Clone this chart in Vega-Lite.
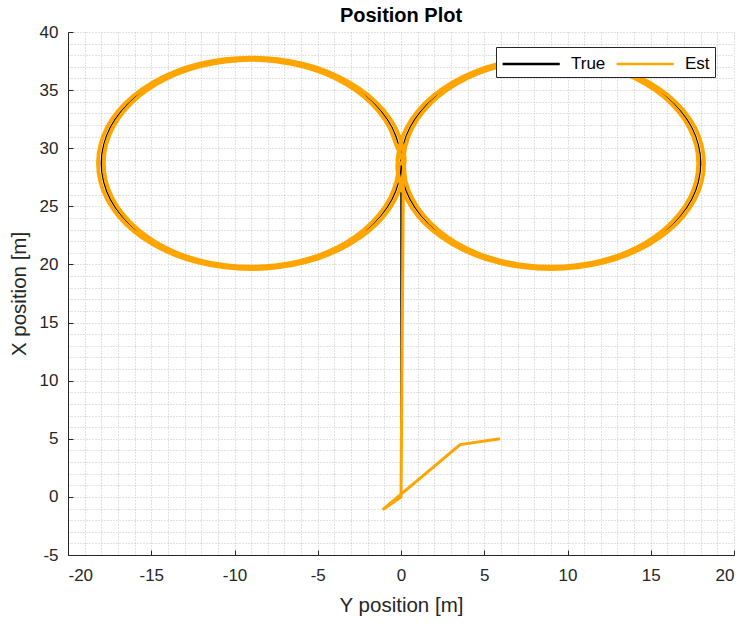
{
"$schema": "https://vega.github.io/schema/vega-lite/v6.json",
"width": 666, "height": 523,
"autosize": {"type": "none"},
"padding": {"left": 68, "top": 32, "right": 10, "bottom": 69},
"background": "white",
"title": {"text": "Position Plot", "font": "Liberation Sans", "fontSize": 20, "fontWeight": "bold", "color": "#000000", "anchor": "middle", "frame": "group", "offset": -3},
"config": {
  "view": {"stroke": null},
  "axis": {
    "labelFont": "Liberation Sans", "labelFontSize": 17, "labelColor": "#262626",
    "titleFont": "Liberation Sans", "titleFontSize": 20.5, "titleFontWeight": "normal", "titleColor": "#262626",
    "domainColor": "#262626", "domainWidth": 1,
    "tickColor": "#262626", "tickSize": -5,
    "tickOpacity": {"condition": {"test": "datum.value % 5 !== 0", "value": 0}, "value": 1},
    "gridColor": "#c4c4c4", "gridDash": [1, 2], "gridWidth": 1,
    "labelExpr": "datum.value % 5 === 0 ? toString(datum.value) : ''"
  }
},
"data": {"values": [
{"s":"True","i":0,"yp":0,"xp":0},
{"s":"True","i":1,"yp":0,"xp":28.7},
{"s":"True","i":2,"yp":0.14,"xp":30.26},
{"s":"True","i":3,"yp":0.54,"xp":31.78},
{"s":"True","i":4,"yp":1.21,"xp":33.2},
{"s":"True","i":5,"yp":2.11,"xp":34.49},
{"s":"True","i":6,"yp":3.21,"xp":35.59},
{"s":"True","i":7,"yp":4.5,"xp":36.49},
{"s":"True","i":8,"yp":5.92,"xp":37.16},
{"s":"True","i":9,"yp":7.44,"xp":37.56},
{"s":"True","i":10,"yp":9,"xp":37.7},
{"s":"True","i":11,"yp":10.56,"xp":37.56},
{"s":"True","i":12,"yp":12.08,"xp":37.16},
{"s":"True","i":13,"yp":13.5,"xp":36.49},
{"s":"True","i":14,"yp":14.79,"xp":35.59},
{"s":"True","i":15,"yp":15.89,"xp":34.49},
{"s":"True","i":16,"yp":16.79,"xp":33.2},
{"s":"True","i":17,"yp":17.46,"xp":31.78},
{"s":"True","i":18,"yp":17.86,"xp":30.26},
{"s":"True","i":19,"yp":18,"xp":28.7},
{"s":"True","i":20,"yp":17.86,"xp":27.14},
{"s":"True","i":21,"yp":17.46,"xp":25.62},
{"s":"True","i":22,"yp":16.79,"xp":24.2},
{"s":"True","i":23,"yp":15.89,"xp":22.91},
{"s":"True","i":24,"yp":14.79,"xp":21.81},
{"s":"True","i":25,"yp":13.5,"xp":20.91},
{"s":"True","i":26,"yp":12.08,"xp":20.24},
{"s":"True","i":27,"yp":10.56,"xp":19.84},
{"s":"True","i":28,"yp":9,"xp":19.7},
{"s":"True","i":29,"yp":7.44,"xp":19.84},
{"s":"True","i":30,"yp":5.92,"xp":20.24},
{"s":"True","i":31,"yp":4.5,"xp":20.91},
{"s":"True","i":32,"yp":3.21,"xp":21.81},
{"s":"True","i":33,"yp":2.11,"xp":22.91},
{"s":"True","i":34,"yp":1.21,"xp":24.2},
{"s":"True","i":35,"yp":0.54,"xp":25.62},
{"s":"True","i":36,"yp":0.14,"xp":27.14},
{"s":"True","i":37,"yp":0,"xp":28.7},
{"s":"True","i":38,"yp":-0.14,"xp":30.26},
{"s":"True","i":39,"yp":-0.54,"xp":31.78},
{"s":"True","i":40,"yp":-1.21,"xp":33.2},
{"s":"True","i":41,"yp":-2.11,"xp":34.49},
{"s":"True","i":42,"yp":-3.21,"xp":35.59},
{"s":"True","i":43,"yp":-4.5,"xp":36.49},
{"s":"True","i":44,"yp":-5.92,"xp":37.16},
{"s":"True","i":45,"yp":-7.44,"xp":37.56},
{"s":"True","i":46,"yp":-9,"xp":37.7},
{"s":"True","i":47,"yp":-10.56,"xp":37.56},
{"s":"True","i":48,"yp":-12.08,"xp":37.16},
{"s":"True","i":49,"yp":-13.5,"xp":36.49},
{"s":"True","i":50,"yp":-14.79,"xp":35.59},
{"s":"True","i":51,"yp":-15.89,"xp":34.49},
{"s":"True","i":52,"yp":-16.79,"xp":33.2},
{"s":"True","i":53,"yp":-17.46,"xp":31.78},
{"s":"True","i":54,"yp":-17.86,"xp":30.26},
{"s":"True","i":55,"yp":-18,"xp":28.7},
{"s":"True","i":56,"yp":-17.86,"xp":27.14},
{"s":"True","i":57,"yp":-17.46,"xp":25.62},
{"s":"True","i":58,"yp":-16.79,"xp":24.2},
{"s":"True","i":59,"yp":-15.89,"xp":22.91},
{"s":"True","i":60,"yp":-14.79,"xp":21.81},
{"s":"True","i":61,"yp":-13.5,"xp":20.91},
{"s":"True","i":62,"yp":-12.08,"xp":20.24},
{"s":"True","i":63,"yp":-10.56,"xp":19.84},
{"s":"True","i":64,"yp":-9,"xp":19.7},
{"s":"True","i":65,"yp":-7.44,"xp":19.84},
{"s":"True","i":66,"yp":-5.92,"xp":20.24},
{"s":"True","i":67,"yp":-4.5,"xp":20.91},
{"s":"True","i":68,"yp":-3.21,"xp":21.81},
{"s":"True","i":69,"yp":-2.11,"xp":22.91},
{"s":"True","i":70,"yp":-1.21,"xp":24.2},
{"s":"True","i":71,"yp":-0.54,"xp":25.62},
{"s":"True","i":72,"yp":-0.14,"xp":27.14},
{"s":"True","i":73,"yp":0,"xp":28.7},
{"s":"Est","i":0,"yp":5.95,"xp":5.0},
{"s":"Est","i":1,"yp":3.55,"xp":4.5},
{"s":"Est","i":2,"yp":-1.1,"xp":-1.1},
{"s":"Est","i":3,"yp":0,"xp":0},
{"s":"Est","i":4,"yp":0.15,"xp":28.7},
{"s":"Est","i":5,"yp":0.28,"xp":30.25},
{"s":"Est","i":6,"yp":0.68,"xp":31.74},
{"s":"Est","i":7,"yp":1.34,"xp":33.15},
{"s":"Est","i":8,"yp":2.22,"xp":34.42},
{"s":"Est","i":9,"yp":3.31,"xp":35.52},
{"s":"Est","i":10,"yp":4.57,"xp":36.41},
{"s":"Est","i":11,"yp":5.97,"xp":37.06},
{"s":"Est","i":12,"yp":7.46,"xp":37.46},
{"s":"Est","i":13,"yp":9,"xp":37.6},
{"s":"Est","i":14,"yp":10.54,"xp":37.46},
{"s":"Est","i":15,"yp":12.03,"xp":37.06},
{"s":"Est","i":16,"yp":13.43,"xp":36.41},
{"s":"Est","i":17,"yp":14.69,"xp":35.52},
{"s":"Est","i":18,"yp":15.78,"xp":34.42},
{"s":"Est","i":19,"yp":16.66,"xp":33.15},
{"s":"Est","i":20,"yp":17.32,"xp":31.74},
{"s":"Est","i":21,"yp":17.72,"xp":30.25},
{"s":"Est","i":22,"yp":17.85,"xp":28.7},
{"s":"Est","i":23,"yp":17.72,"xp":27.15},
{"s":"Est","i":24,"yp":17.32,"xp":25.66},
{"s":"Est","i":25,"yp":16.66,"xp":24.25},
{"s":"Est","i":26,"yp":15.78,"xp":22.98},
{"s":"Est","i":27,"yp":14.69,"xp":21.88},
{"s":"Est","i":28,"yp":13.43,"xp":20.99},
{"s":"Est","i":29,"yp":12.03,"xp":20.34},
{"s":"Est","i":30,"yp":10.54,"xp":19.94},
{"s":"Est","i":31,"yp":9,"xp":19.8},
{"s":"Est","i":32,"yp":7.46,"xp":19.94},
{"s":"Est","i":33,"yp":5.97,"xp":20.34},
{"s":"Est","i":34,"yp":4.57,"xp":20.99},
{"s":"Est","i":35,"yp":3.31,"xp":21.88},
{"s":"Est","i":36,"yp":2.22,"xp":22.98},
{"s":"Est","i":37,"yp":1.34,"xp":24.25},
{"s":"Est","i":38,"yp":0.68,"xp":25.66},
{"s":"Est","i":39,"yp":0.28,"xp":27.15},
{"s":"Est","i":40,"yp":0.15,"xp":28.7},
{"s":"Est","i":41,"yp":-0.28,"xp":30.25},
{"s":"Est","i":42,"yp":-0.68,"xp":31.74},
{"s":"Est","i":43,"yp":-1.34,"xp":33.15},
{"s":"Est","i":44,"yp":-2.22,"xp":34.42},
{"s":"Est","i":45,"yp":-3.31,"xp":35.52},
{"s":"Est","i":46,"yp":-4.57,"xp":36.41},
{"s":"Est","i":47,"yp":-5.97,"xp":37.06},
{"s":"Est","i":48,"yp":-7.46,"xp":37.46},
{"s":"Est","i":49,"yp":-9,"xp":37.6},
{"s":"Est","i":50,"yp":-10.54,"xp":37.46},
{"s":"Est","i":51,"yp":-12.03,"xp":37.06},
{"s":"Est","i":52,"yp":-13.43,"xp":36.41},
{"s":"Est","i":53,"yp":-14.69,"xp":35.52},
{"s":"Est","i":54,"yp":-15.78,"xp":34.42},
{"s":"Est","i":55,"yp":-16.66,"xp":33.15},
{"s":"Est","i":56,"yp":-17.32,"xp":31.74},
{"s":"Est","i":57,"yp":-17.72,"xp":30.25},
{"s":"Est","i":58,"yp":-17.85,"xp":28.7},
{"s":"Est","i":59,"yp":-17.72,"xp":27.15},
{"s":"Est","i":60,"yp":-17.32,"xp":25.66},
{"s":"Est","i":61,"yp":-16.66,"xp":24.25},
{"s":"Est","i":62,"yp":-15.78,"xp":22.98},
{"s":"Est","i":63,"yp":-14.69,"xp":21.88},
{"s":"Est","i":64,"yp":-13.43,"xp":20.99},
{"s":"Est","i":65,"yp":-12.03,"xp":20.34},
{"s":"Est","i":66,"yp":-10.54,"xp":19.94},
{"s":"Est","i":67,"yp":-9,"xp":19.8},
{"s":"Est","i":68,"yp":-7.46,"xp":19.94},
{"s":"Est","i":69,"yp":-5.97,"xp":20.34},
{"s":"Est","i":70,"yp":-4.57,"xp":20.99},
{"s":"Est","i":71,"yp":-3.31,"xp":21.88},
{"s":"Est","i":72,"yp":-2.22,"xp":22.98},
{"s":"Est","i":73,"yp":-1.34,"xp":24.25},
{"s":"Est","i":74,"yp":-0.68,"xp":25.66},
{"s":"Est","i":75,"yp":-0.28,"xp":27.15},
{"s":"Est","i":76,"yp":-0.15,"xp":28.7},
{"s":"Est","i":77,"yp":-0.2,"xp":28.7},
{"s":"Est","i":78,"yp":-0.06,"xp":30.28},
{"s":"Est","i":79,"yp":0.35,"xp":31.81},
{"s":"Est","i":80,"yp":1.03,"xp":33.25},
{"s":"Est","i":81,"yp":1.95,"xp":34.55},
{"s":"Est","i":82,"yp":3.09,"xp":35.67},
{"s":"Est","i":83,"yp":4.4,"xp":36.58},
{"s":"Est","i":84,"yp":5.85,"xp":37.25},
{"s":"Est","i":85,"yp":7.4,"xp":37.66},
{"s":"Est","i":86,"yp":9,"xp":37.8},
{"s":"Est","i":87,"yp":10.6,"xp":37.66},
{"s":"Est","i":88,"yp":12.15,"xp":37.25},
{"s":"Est","i":89,"yp":13.6,"xp":36.58},
{"s":"Est","i":90,"yp":14.91,"xp":35.67},
{"s":"Est","i":91,"yp":16.05,"xp":34.55},
{"s":"Est","i":92,"yp":16.97,"xp":33.25},
{"s":"Est","i":93,"yp":17.65,"xp":31.81},
{"s":"Est","i":94,"yp":18.06,"xp":30.28},
{"s":"Est","i":95,"yp":18.2,"xp":28.7},
{"s":"Est","i":96,"yp":18.06,"xp":27.12},
{"s":"Est","i":97,"yp":17.65,"xp":25.59},
{"s":"Est","i":98,"yp":16.97,"xp":24.15},
{"s":"Est","i":99,"yp":16.05,"xp":22.85},
{"s":"Est","i":100,"yp":14.91,"xp":21.73},
{"s":"Est","i":101,"yp":13.6,"xp":20.82},
{"s":"Est","i":102,"yp":12.15,"xp":20.15},
{"s":"Est","i":103,"yp":10.6,"xp":19.74},
{"s":"Est","i":104,"yp":9,"xp":19.6},
{"s":"Est","i":105,"yp":7.4,"xp":19.74},
{"s":"Est","i":106,"yp":5.85,"xp":20.15},
{"s":"Est","i":107,"yp":4.4,"xp":20.82},
{"s":"Est","i":108,"yp":3.09,"xp":21.73},
{"s":"Est","i":109,"yp":1.95,"xp":22.85},
{"s":"Est","i":110,"yp":1.03,"xp":24.15},
{"s":"Est","i":111,"yp":0.35,"xp":25.59},
{"s":"Est","i":112,"yp":-0.06,"xp":27.12},
{"s":"Est","i":113,"yp":-0.2,"xp":28.7},
{"s":"Est","i":114,"yp":0.2,"xp":28.7},
{"s":"Est","i":115,"yp":0.06,"xp":30.28},
{"s":"Est","i":116,"yp":-0.35,"xp":31.81},
{"s":"Est","i":117,"yp":-1.03,"xp":33.25},
{"s":"Est","i":118,"yp":-1.95,"xp":34.55},
{"s":"Est","i":119,"yp":-3.09,"xp":35.67},
{"s":"Est","i":120,"yp":-4.4,"xp":36.58},
{"s":"Est","i":121,"yp":-5.85,"xp":37.25},
{"s":"Est","i":122,"yp":-7.4,"xp":37.66},
{"s":"Est","i":123,"yp":-9,"xp":37.8},
{"s":"Est","i":124,"yp":-10.6,"xp":37.66},
{"s":"Est","i":125,"yp":-12.15,"xp":37.25},
{"s":"Est","i":126,"yp":-13.6,"xp":36.58},
{"s":"Est","i":127,"yp":-14.91,"xp":35.67},
{"s":"Est","i":128,"yp":-16.05,"xp":34.55},
{"s":"Est","i":129,"yp":-16.97,"xp":33.25},
{"s":"Est","i":130,"yp":-17.65,"xp":31.81},
{"s":"Est","i":131,"yp":-18.06,"xp":30.28},
{"s":"Est","i":132,"yp":-18.2,"xp":28.7},
{"s":"Est","i":133,"yp":-18.06,"xp":27.12},
{"s":"Est","i":134,"yp":-17.65,"xp":25.59},
{"s":"Est","i":135,"yp":-16.97,"xp":24.15},
{"s":"Est","i":136,"yp":-16.05,"xp":22.85},
{"s":"Est","i":137,"yp":-14.91,"xp":21.73},
{"s":"Est","i":138,"yp":-13.6,"xp":20.82},
{"s":"Est","i":139,"yp":-12.15,"xp":20.15},
{"s":"Est","i":140,"yp":-10.6,"xp":19.74},
{"s":"Est","i":141,"yp":-9,"xp":19.6},
{"s":"Est","i":142,"yp":-7.4,"xp":19.74},
{"s":"Est","i":143,"yp":-5.85,"xp":20.15},
{"s":"Est","i":144,"yp":-4.4,"xp":20.82},
{"s":"Est","i":145,"yp":-3.09,"xp":21.73},
{"s":"Est","i":146,"yp":-1.95,"xp":22.85},
{"s":"Est","i":147,"yp":-1.03,"xp":24.15},
{"s":"Est","i":148,"yp":-0.35,"xp":25.59},
{"s":"Est","i":149,"yp":0.06,"xp":27.12},
{"s":"Est","i":150,"yp":0.2,"xp":28.7}
]},
"encoding": {
  "x": {"field": "yp", "type": "quantitative",
    "scale": {"domain": [-20, 20], "nice": false, "zero": false},
    "axis": {"title": "Y position [m]", "grid": true, "labelPadding": 17, "titlePadding": 12,
      "values": [-20,-19,-18,-17,-16,-15,-14,-13,-12,-11,-10,-9,-8,-7,-6,-5,-4,-3,-2,-1,0,1,2,3,4,5,6,7,8,9,10,11,12,13,14,15,16,17,18,19,20]}},
  "y": {"field": "xp", "type": "quantitative",
    "scale": {"domain": [-5, 40], "nice": false, "zero": false},
    "axis": {"title": "X position [m]", "grid": true, "labelPadding": 15, "titlePadding": 10,
      "values": [-5,-4,-3,-2,-1,0,1,2,3,4,5,6,7,8,9,10,11,12,13,14,15,16,17,18,19,20,21,22,23,24,25,26,27,28,29,30,31,32,33,34,35,36,37,38,39,40]}},
  "color": {"field": "s", "type": "nominal", "scale": {"domain": ["True", "Est"], "range": ["#000000", "#FFA500"]},
    "legend": {"orient": "none", "legendX": 428, "legendY": 15, "direction": "horizontal", "title": null,
      "symbolType": "M-1,0H4.5", "symbolSize": 432, "symbolStrokeWidth": 2.5,
      "labelFont": "Liberation Sans", "labelFontSize": 17, "labelColor": "#000000", "labelOffset": 46,
      "columnPadding": 5, "padding": 5, "strokeColor": "#262626", "fillColor": "#ffffff"}},
  "order": {"field": "i", "type": "quantitative"}
},
"layer": [
  {"transform": [{"filter": "datum.s === 'True' && datum.i <= 1"}],
   "mark": {"type": "line", "strokeWidth": 1.5}},
  {"transform": [{"filter": "datum.s === 'True' && datum.i >= 1"}],
   "mark": {"type": "line", "strokeWidth": 1.5, "interpolate": "catmull-rom"}},
  {"transform": [{"filter": "datum.s === 'Est' && datum.i <= 4"}],
   "mark": {"type": "line", "strokeWidth": 3}},
  {"transform": [{"filter": "datum.s === 'Est' && datum.i >= 4"}],
   "mark": {"type": "line", "strokeWidth": 3.8, "interpolate": "catmull-rom"}}
]
}
